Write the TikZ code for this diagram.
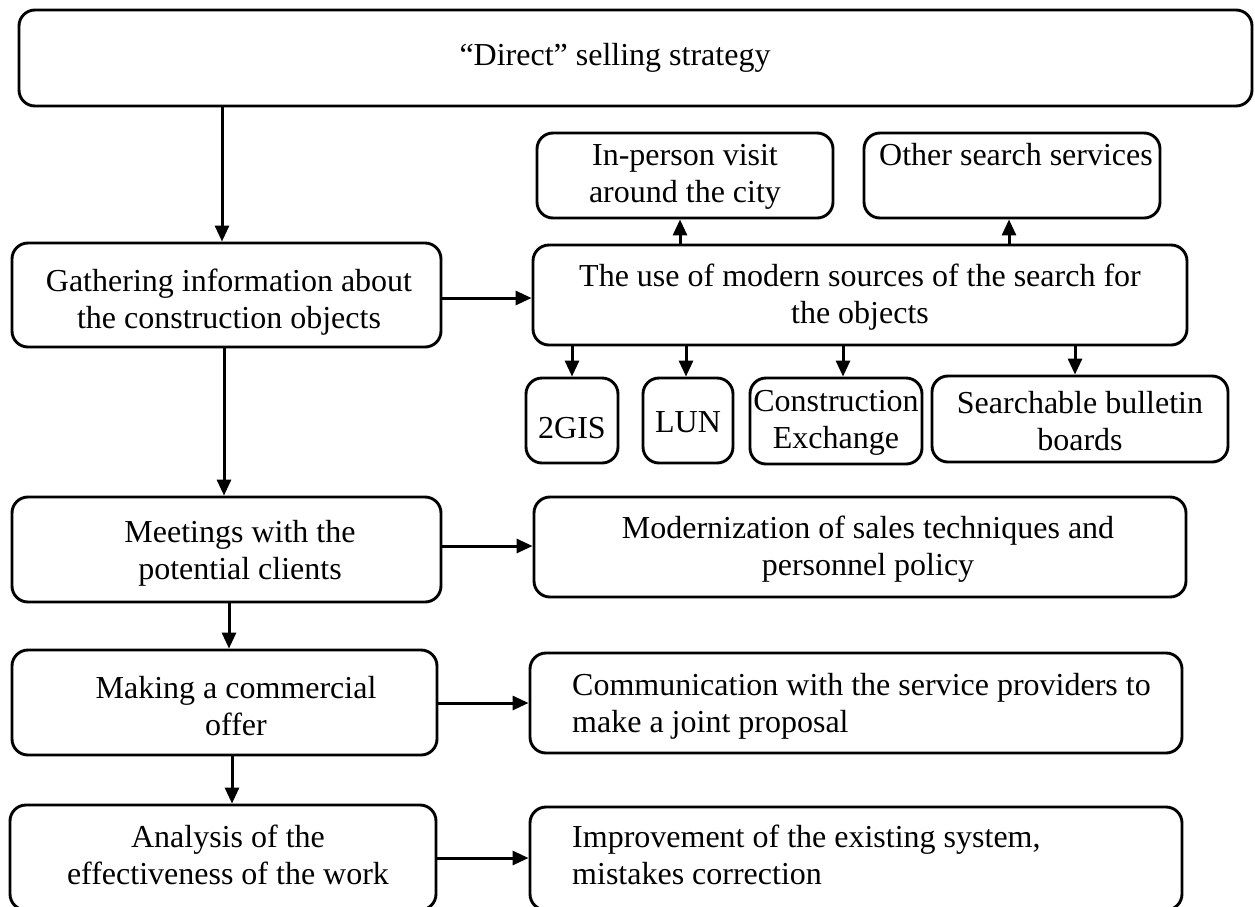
\documentclass[tikz,border=0pt]{standalone}
\usepackage{fontspec}
\setmainfont{Liberation Serif}
\usetikzlibrary{arrows.meta}
\begin{document}
\begin{tikzpicture}[x=1pt,y=-1pt,
  box/.style={draw, line width=2.9pt, rounded corners=16pt, inner sep=0pt},
  txt/.style={font=\fontsize{32}{37}\selectfont, align=center, inner sep=0pt},
  ltxt/.style={font=\fontsize{32}{37}\selectfont, align=left, inner sep=0pt, anchor=west},
  arr/.style={line width=3pt, -{Triangle[length=16pt,width=14pt]}}]
\useasboundingbox (0,0) rectangle (1255,906);

% boxes
\node[box, minimum width=1233pt, minimum height=96pt] (top) at (635.5,58) {};
\node[box, minimum width=296pt, minimum height=85pt] (inperson) at (685,175.5) {};
\node[box, minimum width=296pt, minimum height=85pt] (other) at (1012,175.5) {};
\node[box, minimum width=429pt, minimum height=104pt] (gather) at (226.5,295) {};
\node[box, minimum width=654pt, minimum height=100pt] (modern) at (860,295) {};
\node[box, minimum width=92pt, minimum height=85pt] (gis) at (572,420.5) {};
\node[box, minimum width=90pt, minimum height=85pt] (lun) at (688,420.5) {};
\node[box, minimum width=172pt, minimum height=86pt] (constr) at (836,421) {};
\node[box, minimum width=296pt, minimum height=86pt] (search) at (1080,419) {};
\node[box, minimum width=429pt, minimum height=105pt] (meet) at (226.5,549.5) {};
\node[box, minimum width=652pt, minimum height=100pt] (modz) at (860,547) {};
\node[box, minimum width=425pt, minimum height=105pt] (making) at (224.5,702.5) {};
\node[box, minimum width=652pt, minimum height=100pt] (comm) at (856,703) {};
\node[box, minimum width=426pt, minimum height=105pt] (analysis) at (223,857.5) {};
\node[box, minimum width=652pt, minimum height=103pt] (improve) at (856,858.5) {};

% texts
\node[txt] (topt) at (615,58) {“Direct” selling strategy};
\node[txt] (inpersont) at (685,177) {In-person visit\\around the city};
\node[txt] (othert) at (1016,155) {Other search services};
\node[txt] (gathert) at (229,302) {Gathering information about\\the construction objects};
\node[txt] (modernt) at (860,297) {The use of modern sources of the search for\\the objects};
\node[txt] (gist) at (572,428) {2GIS};
\node[txt] (lunt) at (688,422) {LUN};
\node[txt] (constrt) at (836,423) {Construction\\Exchange};
\node[txt] (searcht) at (1080,421) {Searchable bulletin\\boards};
\node[txt] (meett) at (240,553) {Meetings with the\\potential clients};
\node[txt] (modzt) at (868,549) {Modernization of sales techniques and\\personnel policy};
\node[txt] (makingt) at (236,706) {Making a commercial\\offer};
\node[ltxt] (commt) at (572,706) {Communication with the service providers to\\make a joint proposal};
\node[txt] (analysist) at (228,855) {Analysis of the\\effectiveness of the work};
\node[ltxt] (improvet) at (572,855) {Improvement of the existing system,\\mistakes correction};

% connectors
\draw[arr] (top.south -| 222,0) -- (gather.north -| 222,0);
\draw[arr] (gather.east |- 0,298) -- (modern.west |- 0,298);
\draw[arr] (modern.north -| 680,0) -- (inperson.south -| 680,0);
\draw[arr] (modern.north -| 1009,0) -- (other.south -| 1009,0);
\draw[arr] (modern.south -| 572,0) -- (gis.north -| 572,0);
\draw[arr] (modern.south -| 686,0) -- (lun.north -| 686,0);
\draw[arr] (modern.south -| 843,0) -- (constr.north -| 843,0);
\draw[arr] (modern.south -| 1075,0) -- (search.north -| 1075,0);
\draw[arr] (gather.south -| 224,0) -- (meet.north -| 224,0);
\draw[arr] (meet.east |- 0,546) -- (modz.west |- 0,546);
\draw[arr] (meet.south -| 229,0) -- (making.north -| 229,0);
\draw[arr] (making.east |- 0,703) -- (comm.west |- 0,703);
\draw[arr] (making.south -| 232,0) -- (analysis.north -| 232,0);
\draw[arr] (analysis.east |- 0,858) -- (improve.west |- 0,858);
\end{tikzpicture}
\end{document}
